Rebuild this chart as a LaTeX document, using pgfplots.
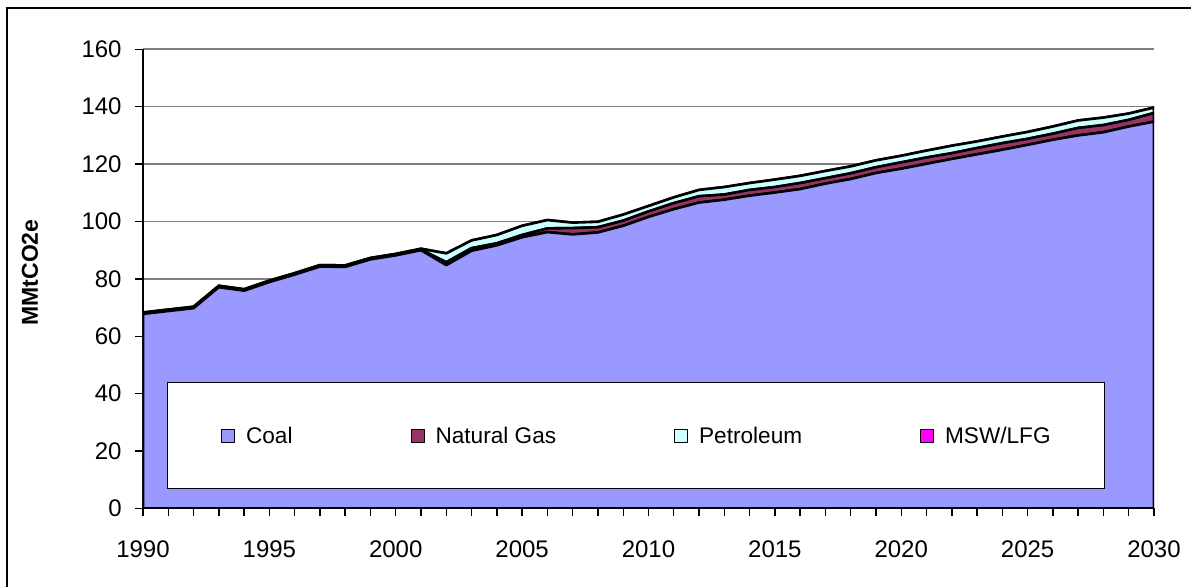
\documentclass[border=0pt]{standalone}
\usepackage{fontspec}
\setmainfont{Liberation Sans}
\usepackage{pgfplots}
\usepackage{pgfplotstable}
\pgfplotsset{compat=1.18}
\definecolor{coal}{HTML}{9999FF}
\definecolor{ngas}{HTML}{993366}
\definecolor{petro}{HTML}{CCFFFF}
\definecolor{msw}{HTML}{FF00FF}
\definecolor{gridgray}{HTML}{808080}

\pgfplotstableread{
year coal gas pet msw
1990 67.8 0.2 0.3 0.0
1991 68.8 0.2 0.3 0.0
1992 69.8 0.2 0.3 0.0
1993 77.1 0.2 0.3 0.0
1994 75.9 0.2 0.3 0.0
1995 78.9 0.2 0.3 0.0
1996 81.5 0.2 0.3 0.0
1997 84.3 0.2 0.3 0.0
1998 84.2 0.2 0.3 0.0
1999 86.8 0.2 0.3 0.0
2000 88.2 0.2 0.3 0.0
2001 90.0 0.2 0.3 0.0
2002 84.8 1.0 3.1 0.0
2003 89.8 0.9 2.7 0.0
2004 91.7 0.7 2.9 0.0
2005 94.5 0.8 3.2 0.0
2006 96.3 1.3 2.9 0.0
2007 95.5 2.2 1.9 0.0
2008 96.2 1.8 1.9 0.0
2009 98.5 1.8 2.1 0.0
2010 101.6 1.9 1.9 0.0
2011 104.3 2.1 2.0 0.0
2012 106.6 2.2 2.2 0.0
2013 107.6 1.8 2.6 0.0
2014 109.0 2.0 2.4 0.0
2015 110.1 1.9 2.6 0.0
2016 111.3 2.1 2.5 0.0
2017 113.2 1.9 2.5 0.0
2018 114.8 2.0 2.4 0.0
2019 116.9 2.0 2.4 0.0
2020 118.4 2.2 2.3 0.0
2021 120.1 2.2 2.4 0.0
2022 121.8 2.0 2.6 0.0
2023 123.4 2.2 2.3 0.0
2024 125.0 2.3 2.3 0.0
2025 126.7 2.1 2.4 0.0
2026 128.5 2.1 2.5 0.0
2027 130.0 2.6 2.6 0.0
2028 131.1 2.5 2.6 0.0
2029 133.1 2.3 2.2 0.0
2030 134.8 3.0 1.9 0.0
}\datatable

\begin{document}
\begin{tikzpicture}
\useasboundingbox (0,0) rectangle (595.5pt,293.5pt);
\draw[line width=0.6pt] (3.5pt,-5pt) -- (3.5pt,289.5pt) -- (600pt,289.5pt);
\begin{axis}[
  at={(71.5pt,39.25pt)}, anchor=south west,
  scale only axis, width=505.5pt, height=229.6pt,
  xmin=1990, xmax=2030, ymin=0, ymax=160,
  axis lines=left,
  axis line style={-, black, line width=0.7pt},
  xtick={1990,1995,...,2030},
  minor xtick={1990,1991,...,2030},
  ytick={0,20,...,160},
  tick align=outside,
  major tick length=4pt, minor tick length=4pt,
  every tick/.style={black, line width=0.7pt},
  minor tick style={black, line width=0.7pt},
  ymajorgrids,
  major grid style={gridgray, line width=0.8pt},
  /pgf/number format/assume math mode=true,
  /pgf/number format/1000 sep={},
  tick label style={font=\fontsize{12}{14}\selectfont},
  xticklabel style={inner sep=0pt, anchor=north, yshift=-12pt},
  yticklabel style={inner sep=0pt, anchor=east, xshift=-6.5pt},
  stack plots=y,
  legend columns=4,
  legend cell align=left,
  legend style={at={(axis cs:2009.5,25.3)}, anchor=center,
    draw=black, fill=white, line width=0.6pt,
    inner xsep=26.75pt, inner ysep=22.5pt, outer sep=0pt,
    font=\fontsize{11.3}{13}\selectfont,
    nodes={inner sep=0pt, text height=8pt, text depth=0pt},
    /tikz/every odd column/.append style={column sep=5.5pt},
    /tikz/every even column/.append style={column sep=59pt}},
  legend image code/.code={\draw[#1, draw=black, line width=0.5pt] (0pt,-3.25pt) rectangle (6.5pt,3.25pt);},
]
\addplot[fill=coal, draw=black, line width=1.3pt, line join=round] table[x=year,y=coal]{\datatable} \closedcycle;
\addlegendentry{Coal}
\addplot[fill=ngas, draw=black, line width=1.3pt, line join=round] table[x=year,y=gas]{\datatable} \closedcycle;
\addlegendentry{Natural Gas}
\addplot[fill=petro, draw=black, line width=1.3pt, line join=round] table[x=year,y=pet]{\datatable} \closedcycle;
\addlegendentry{Petroleum}
\addplot[fill=msw, draw=black, line width=1.3pt, line join=round] table[x=year,y=msw]{\datatable} \closedcycle;
\addlegendentry{MSW/LFG}
\end{axis}
\node[rotate=90, font=\bfseries\fontsize{11.5}{13}\selectfont] at (15pt,157.25pt) {MMtCO2e};
\end{tikzpicture}
\end{document}
